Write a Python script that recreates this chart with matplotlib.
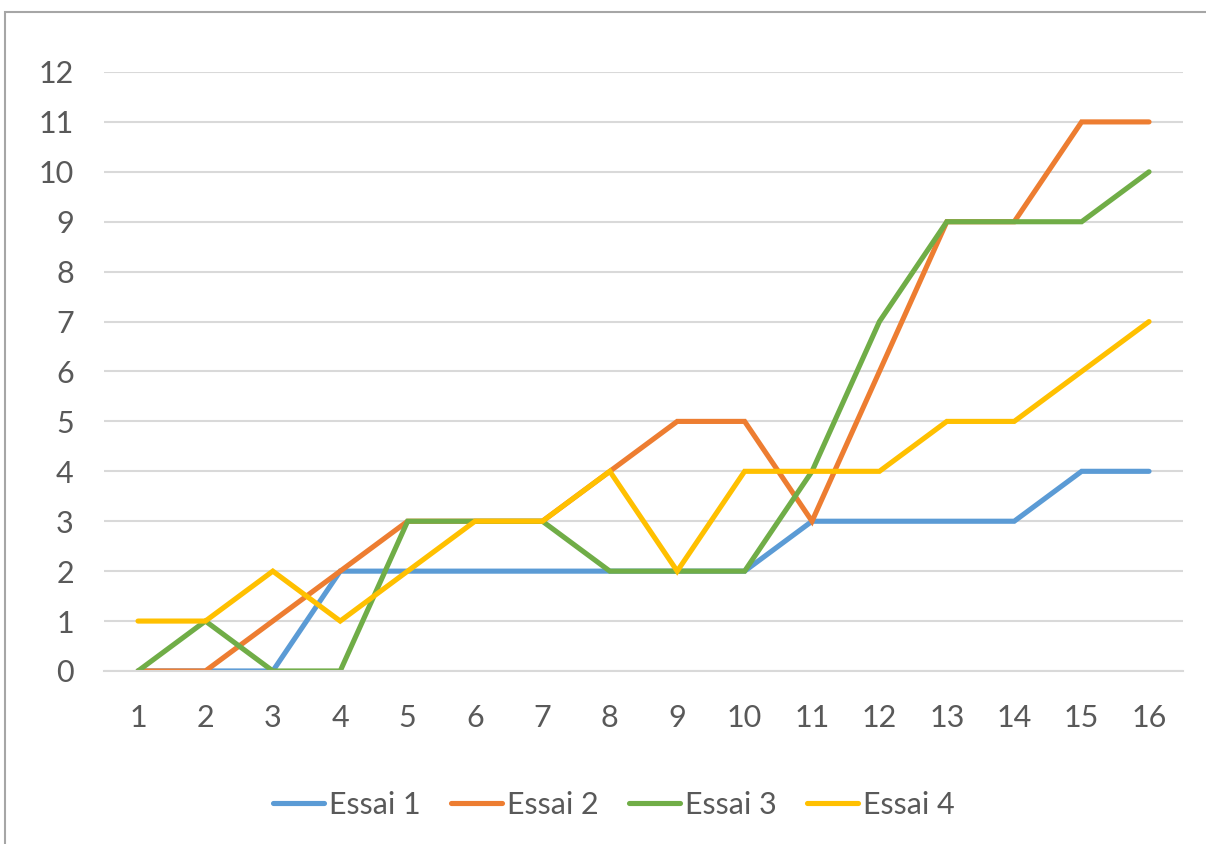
import matplotlib
matplotlib.use("Agg")
import matplotlib.pyplot as plt
from matplotlib.patches import Rectangle

# Data
x = list(range(1, 17))
essai1 = [0, 0, 0, 2, 2, 2, 2, 2, 2, 2, 3, 3, 3, 3, 4, 4]
essai2 = [0, 0, 1, 2, 3, 3, 3, 4, 5, 5, 3, 6, 9, 9, 11, 11]
essai3 = [0, 1, 0, 0, 3, 3, 3, 2, 2, 2, 4, 7, 9, 9, 9, 10]
essai4 = [1, 1, 2, 1, 2, 3, 3, 4, 2, 4, 4, 4, 5, 5, 6, 7]
labels = ["Essai 1", "Essai 2", "Essai 3", "Essai 4"]
colors = ["#5B9BD5", "#ED7D31", "#70AD47", "#FFC000"]

plt.rcParams['font.family'] = ['Lato', 'DejaVu Sans']

fig = plt.figure(figsize=(12.06, 8.44), dpi=100)
ax = fig.add_axes([0.0865, 0.2050, 0.8942, 0.7097])

for ys, lab, c in zip([essai1, essai2, essai3, essai4], labels, colors):
    ax.plot(x, ys, color=c, lw=3.7, label=lab, solid_capstyle='round',
            solid_joinstyle='miter')

ax.set_xlim(0.5, 16.5)
ax.set_ylim(0, 12)
ax.set_xticks(x)
ax.set_yticks(range(0, 13))
ax.yaxis.grid(True, color="#D9D9D9", lw=1.5)
ax.set_axisbelow(True)
for s in ["top", "right", "left"]:
    ax.spines[s].set_visible(False)
ax.spines["bottom"].set_color("#D9D9D9")
ax.spines["bottom"].set_linewidth(1.5)
ax.tick_params(axis='both', length=0, labelsize=22, colors="#595959")
ax.tick_params(axis='x', pad=24)
ax.tick_params(axis='y', pad=22)

leg = ax.legend(loc='center', bbox_to_anchor=(0.4726, -0.224), ncol=4, frameon=False,
                fontsize=22, handlelength=1.67, handletextpad=0.16, columnspacing=1.0)
for t in leg.get_texts():
    t.set_color("#595959")

# chart area border
fig.patches.append(Rectangle((5 / 1206, -0.1), 1.2, (844 - 12) / 844 + 0.1,
                             transform=fig.transFigure, fill=False,
                             edgecolor="#A6A6A6", lw=1.5))

fig.savefig("out.png", dpi=100)
